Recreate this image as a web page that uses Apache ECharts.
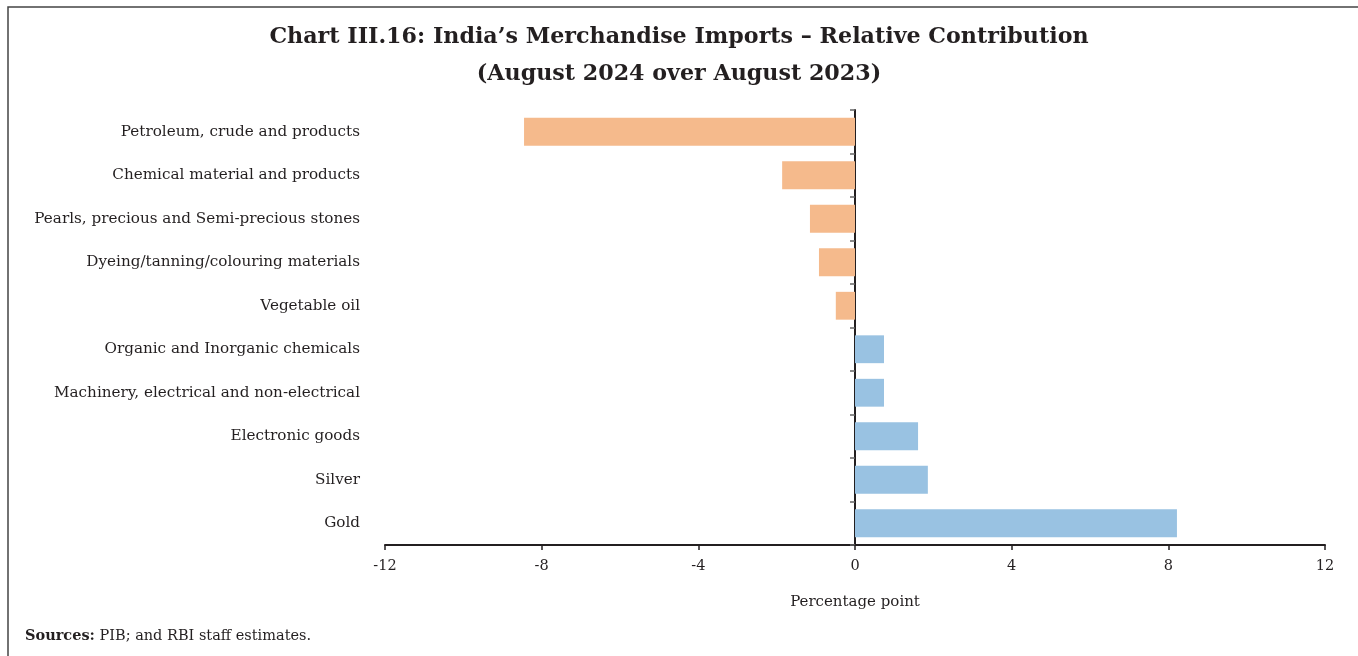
<!DOCTYPE html>
<html>
<head>
<meta charset="utf-8">
<script src="https://cdn.jsdelivr.net/npm/echarts@6/dist/echarts.min.js"></script>
<style>
html,body{margin:0;padding:0;background:#fff;}
#chart{width:1358px;height:656px;}
</style>
</head>
<body>
<div id="chart"></div>
<script>
const categories = [
  'Petroleum, crude and products',
  'Chemical material and products',
  'Pearls, precious and Semi-precious stones',
  'Dyeing/tanning/colouring materials',
  'Vegetable oil',
  'Organic and Inorganic chemicals',
  'Machinery, electrical and non-electrical',
  'Electronic goods',
  'Silver',
  'Gold'
];
const values = [-8.45, -1.86, -1.15, -0.92, -0.49, 0.74, 0.74, 1.61, 1.86, 8.22];
const xTicks = [-12, -8, -4, 0, 4, 8, 12];

const FONT = 'DejaVu Serif';
const chart = echarts.init(document.getElementById('chart'));
chart.setOption({
  animation: false,
  backgroundColor: '#fff',
  title: {
    text: 'Chart III.16: India\u2019s Merchandise Imports \u2013 Relative Contribution\n(August 2024 over August 2023)',
    left: 'center',
    top: 14,
    textStyle: {fontFamily: FONT, fontWeight: 'bold', fontSize: 22.2, lineHeight: 37, color: '#231f20'}
  },
  graphic: [
    {type: 'rect', shape: {x: 8, y: 7, width: 1400, height: 700}, style: {fill: 'none', stroke: '#444', lineWidth: 1.5}, silent: true},
    {type: 'text', left: 25, top: 629, style: {
      text: '{b|Sources:} PIB; and RBI staff estimates.',
      rich: {b: {fontFamily: FONT, fontWeight: 'bold', fontSize: 14.5, fill: '#231f20'}},
      fontFamily: FONT, fontSize: 14.5, fill: '#231f20'
    }}
  ],
  grid: {left: 385, right: 33, top: 110, bottom: 111, containLabel: false, outerBoundsMode: 'none'},
  xAxis: {
    type: 'value', min: -12, max: 12, interval: 4,
    axisLine: {show: true, lineStyle: {color: '#231f20', width: 2}},
    axisTick: {show: true, inside: false, length: 5, lineStyle: {color: '#231f20', width: 1.5}},
    splitLine: {show: false},
    axisLabel: {fontFamily: FONT, fontSize: 14.5, color: '#231f20', margin: 14,
      formatter: v => xTicks.includes(v) ? String(v) : ''},
    name: 'Percentage point', nameLocation: 'middle', nameGap: 50,
    nameTextStyle: {fontFamily: FONT, fontSize: 15, color: '#231f20'}
  },
  yAxis: {
    type: 'category', data: categories, inverse: true,
    axisLine: {show: true, onZero: true, lineStyle: {color: '#231f20', width: 2}},
    axisTick: {show: true, inside: false, length: 5, lineStyle: {color: '#666', width: 1.5}},
    axisLabel: {fontFamily: FONT, fontSize: 15.2, color: '#231f20', margin: 25, align: 'right'},
    splitLine: {show: false}
  },
  series: [{
    type: 'bar',
    data: values,
    barWidth: '64%',
    itemStyle: {color: p => p.value < 0 ? '#f5ba8c' : '#99c2e2'}
  }]
});
</script>
</body>
</html>
